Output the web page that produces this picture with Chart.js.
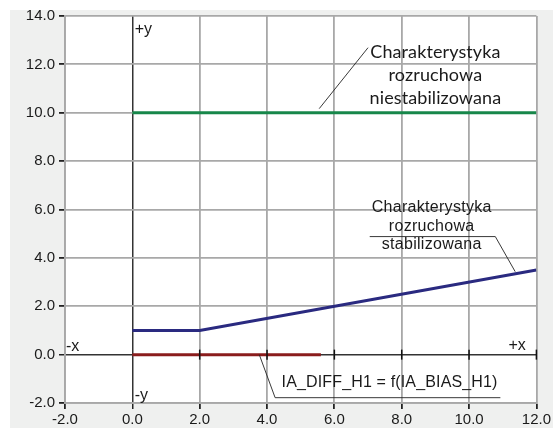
<!DOCTYPE html>
<html>
<head>
<meta charset="utf-8">
<script src="https://cdn.jsdelivr.net/npm/chart.js@4.4.1/dist/chart.umd.min.js"></script>
<style>
  html, body { margin: 0; padding: 0; background: #ffffff; }
  #wrap { width: 553px; height: 428px; position: relative; }
</style>
</head>
<body>
<div id="wrap"><canvas id="c" width="553" height="428"></canvas></div>
<script>
// ---- data ----
const xTickValues = [-2, 0, 2, 4, 6, 8, 10, 12];
const yTickValues = [-2, 0, 2, 4, 6, 8, 10, 12, 14];

const unstabX = [0, 12];
const unstabY = [10, 10];

const stabX = [0, 2, 12];
const stabY = [1, 1, 3.5];

const diffX = [0, 5.6];
const diffY = [0, 0];

const label1Lines = ['Charakterystyka', 'rozruchowa', 'niestabilizowana'];
const label2Lines = ['Charakterystyka', 'rozruchowa', 'stabilizowana'];
const label3Text = 'IA_DIFF_H1 = f(IA_BIAS_H1)';
const axisNames = ['+y', '-y', '-x', '+x'];

function pts(xs, ys) { return xs.map((x, i) => ({ x: x, y: ys[i] })); }

const GRID = '#a8a8a8';
const AXIS = '#333333';

const bgPlugin = {
  id: 'bg',
  beforeDraw(chart) {
    const { ctx, chartArea: a, width, height } = chart;
    ctx.save();
    ctx.fillStyle = '#ffffff';
    ctx.fillRect(0, 0, width, height);
    ctx.fillStyle = '#eff0ef';
    ctx.fillRect(10, 10, width - 10, height - 10);
    ctx.fillStyle = '#ffffff';
    ctx.fillRect(a.left, a.top, a.right - a.left, a.bottom - a.top);
    ctx.restore();
  }
};

const annoPlugin = {
  id: 'anno',
  afterDatasetsDraw(chart) {
    const ctx = chart.ctx;
    const xs = chart.scales.x, ys = chart.scales.y;
    const X = v => xs.getPixelForValue(v);
    const Y = v => ys.getPixelForValue(v);
    ctx.save();
    // cross ticks on the x axis (y = 0)
    ctx.strokeStyle = '#111';
    ctx.lineWidth = 1.5;
    xTickValues.forEach(v => {
      if (v <= 0) return;
      ctx.beginPath();
      ctx.moveTo(X(v), Y(0) - 5);
      ctx.lineTo(X(v), Y(0) + 5);
      ctx.stroke();
    });

    // leader lines
    ctx.strokeStyle = '#222';
    ctx.lineWidth = 0.9;
    function line(pairs) {
      ctx.beginPath();
      pairs.forEach((p, i) => {
        if (i === 0) ctx.moveTo(X(p[0]), Y(p[1]));
        else ctx.lineTo(X(p[0]), Y(p[1]));
      });
      ctx.stroke();
    }
    line([[5.55, 10.17], [7.0, 12.69]]);
    line([[7.05, 4.88], [10.78, 4.88], [11.37, 3.43]]);
    line([[3.77, 0.0], [4.24, -1.78], [10.93, -1.78]]);

    ctx.fillStyle = '#1a1a1a';
    ctx.textBaseline = 'middle';
    ctx.textAlign = 'center';
    // label 1
    ctx.font = '18px Lato, "Open Sans", sans-serif';
    ctx.letterSpacing = '0.1px';
    const l1y = [12.52, 11.57, 10.62];
    label1Lines.forEach((t, i) => ctx.fillText(t, X(9.0), Y(l1y[i])));
    // label 2
    ctx.font = '16px "Liberation Sans", Arial, sans-serif';
    ctx.letterSpacing = '0.3px';
    const l2y = [6.07, 5.29, 4.55];
    label2Lines.forEach((t, i) => ctx.fillText(t, X(8.89), Y(l2y[i])));
    // label 3
    ctx.letterSpacing = '0.15px';
    ctx.fillText(label3Text, X(7.64), Y(-1.16));
    ctx.letterSpacing = '0px';

    // axis names
    ctx.textAlign = 'left';
    ctx.font = '16px "Liberation Sans", Arial, sans-serif';
    ctx.fillText(axisNames[0], X(0.07), Y(13.43));
    ctx.fillText(axisNames[1], X(0.07), Y(-1.69));
    ctx.fillText(axisNames[2], X(-1.97), Y(0.33));
    ctx.fillText(axisNames[3], X(11.17), Y(0.37));
    ctx.restore();
  }
};

const tickFont = { family: '"Liberation Sans", Arial, sans-serif', size: 15 };

new Chart(document.getElementById('c'), {
  type: 'scatter',
  data: {
    datasets: [
      { data: pts(unstabX, unstabY), showLine: true, borderColor: '#17874a', borderWidth: 3, pointRadius: 0 },
      { data: pts(stabX, stabY), showLine: true, borderColor: '#2a2a80', borderWidth: 3, pointRadius: 0 },
      { data: pts(diffX, diffY), showLine: true, borderColor: '#8a1c1c', borderWidth: 3, pointRadius: 0 }
    ]
  },
  options: {
    responsive: false,
    animation: false,
    events: [],
    layout: { padding: { left: 10, top: 16, right: 15, bottom: 0 } },
    plugins: { legend: { display: false }, tooltip: { enabled: false } },
    scales: {
      x: {
        type: 'linear',
        min: -2, max: 12,
        afterBuildTicks: s => { s.ticks = xTickValues.map(v => ({ value: v })); },
        afterFit: s => { s.height = 25; },
        ticks: { callback: v => Number(v).toFixed(1), font: tickFont, color: '#1a1a1a', padding: 2, maxRotation: 0 },
        grid: {
          color: c => (c.tick && c.tick.value === 0) ? AXIS : GRID,
          lineWidth: c => (c.tick && c.tick.value === 0) ? 1.5 : 1.8,
          tickColor: '#222', tickLength: 6, drawTicks: true
        },
        border: { display: true, color: GRID, width: 1.8 }
      },
      y: {
        type: 'linear',
        min: -2, max: 14,
        afterBuildTicks: s => { s.ticks = yTickValues.map(v => ({ value: v })); },
        afterFit: s => { s.width = 55; },
        ticks: { callback: v => Number(v).toFixed(1), font: tickFont, color: '#1a1a1a', padding: 4 },
        grid: {
          color: c => (c.tick && c.tick.value === 0) ? AXIS : GRID,
          lineWidth: c => (c.tick && c.tick.value === 0) ? 1.5 : 1.8,
          tickColor: '#222', tickLength: 6, drawTicks: true
        },
        border: { display: true, color: GRID, width: 1.8 }
      }
    }
  },
  plugins: [bgPlugin, annoPlugin]
});
</script>
</body>
</html>
